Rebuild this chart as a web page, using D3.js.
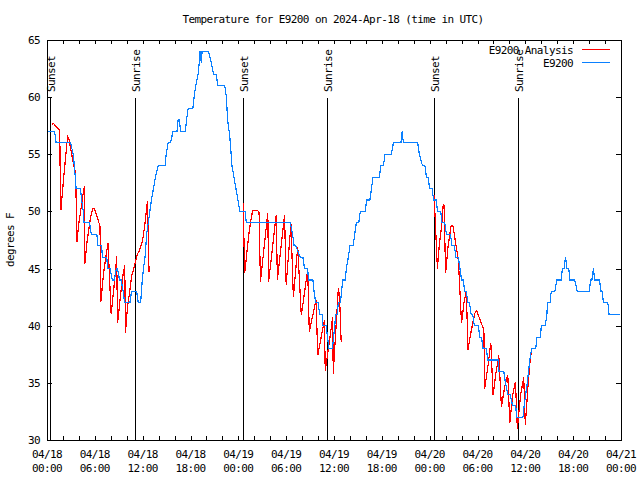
<!DOCTYPE html>
<html><head><meta charset="utf-8">
<script src="https://cdn.jsdelivr.net/npm/d3@7"></script>
<style>
body{margin:0;background:#fff}
text{font-family:"DejaVu Sans Mono",monospace;font-size:11px;letter-spacing:-0.6px;fill:#000}
</style></head>
<body><svg id="c" width="640" height="480"></svg>
<script>
const title = "Temperature for E9200 on 2024-Apr-18 (time in UTC)";
const yLabel = "degrees F";
const seriesNames = ["E9200 Analysis", "E9200"];
const seriesColors = ["#ff0000", "#0a80ff"];

const xTickHours = [0,6,12,18,24,30,36,42,48,54,60,66,72];
const xTickDates = ["04/18","04/18","04/18","04/18","04/19","04/19","04/19","04/19","04/20","04/20","04/20","04/20","04/21"];
const xTickTimes = ["00:00","06:00","12:00","18:00","00:00","06:00","12:00","18:00","00:00","06:00","12:00","18:00","00:00"];
const xMinorHours = [0,2,4,6,8,10,12,14,16,18,20,22,24,26,28,30,32,34,36,38,40,42,44,46,48,50,52,54,56,58,60,62,64,66,68,70,72];
const yTicks = [30,35,40,45,50,55,60,65];

const sunLabels = ["Sunset","Sunrise","Sunset","Sunrise","Sunset","Sunrise"];
const sunHours = [0.41,11.08,24.55,35.17,48.6,59.14];

// Observations (hours since 04/18 00:00 UTC, deg F)
const observed = [
[0.1,57],[0.95,57],[1.15,56],[2.95,56],[3.3,55],[3.55,53],[3.65,52],[4.2,52],[4.35,51],[4.55,50],[4.65,49],[5.35,49],[5.55,48],[6.25,48],[6.4,47],[6.85,47],[6.95,46],[7.5,46],[7.6,45],[7.9,45],[8.2,44],[8.45,44],[8.7,45],[8.85,45],[9.1,44],[9.3,44],[9.55,43],[9.75,42],[10.4,42],[10.6,43],[11.25,43],[11.45,42],[11.75,42],[11.95,44],[12.1,45],[12.3,46],[12.5,48],[12.7,49],[12.9,50],[13.1,51],[13.35,52],[13.6,53],[13.95,54],[14.8,54],[14.95,55],[15.2,56],[15.5,56],[15.8,57],[16.3,57],[16.45,58],[16.6,58],[16.75,57],[17.35,57],[17.5,58],[17.7,59],[18.3,59],[18.45,60],[18.65,61],[18.95,62],[19.1,63],[19.2,64],[19.35,63],[19.45,64],[20.25,64],[20.6,63],[20.9,62],[21.25,62],[21.4,61],[22.3,61],[22.5,60],[22.65,58],[22.85,57],[23.0,56],[23.2,54],[23.45,53],[23.7,52],[23.95,51],[24.2,50],[24.85,50],[25.0,49],
[30.5,49],[30.8,48],[31.0,47],[31.2,47],[31.75,46],[32.1,46],[32.3,45],[32.7,45],[32.8,44],[33.35,44],[33.5,43],[33.7,42],[34.0,42],[34.2,41],[34.5,41],[34.6,40],[35.0,40],[35.2,39],[35.35,38],[35.8,38],[35.95,39],[36.1,40],[36.2,41],[36.4,41],[36.55,42],[36.8,42],[36.95,43],[37.1,44],[37.4,44],[37.55,45],[37.8,46],[38.0,47],[38.4,47],[38.6,48],[38.8,49],[39.1,49],[39.3,50],[39.9,50],[40.1,51],[40.5,51],[40.7,52],[40.9,53],[41.7,53],[41.85,54],[42.2,54],[42.4,55],[43.2,55],[43.45,56],[44.4,56],[44.55,57],[44.7,56],[46.5,56],[46.7,55],[47.1,54],[47.4,54],[47.6,53],[47.8,53],[48.0,52],[48.3,52],[48.5,51],[48.8,51],[49.0,50],[49.4,50],[49.5,49],[49.9,49],[50.1,48],[50.6,48],[50.8,47],[51.1,47],[51.3,46],[51.6,46],[51.8,45],[52.0,44],[52.2,44],[52.4,43],[52.6,43],[52.8,42],[53.0,42],[53.2,41],[53.4,41],[53.6,40],[54.1,40],[54.3,39],[54.5,39],[54.7,38],[55.1,38],[55.3,37],[56.6,37],[56.7,36],[57.3,36],[57.5,35],[57.8,34],[58.1,34],[58.4,33],[58.8,33],[58.9,32],[59.7,32],[59.85,33],[60.05,34],[60.25,35],[60.4,36],[60.55,37],[60.8,38],[61.3,38],[61.45,39],[61.9,39],[62.0,40],[62.5,40],[62.7,41],[62.8,42],[63.1,42],[63.25,43],[63.7,43],[63.95,44],[64.5,44],[64.65,45],[64.85,45],[65.05,46],[65.2,45],[65.45,45],[65.6,44],[66.2,44],[66.5,43],[68.0,43],[68.2,44],[68.35,44],[68.55,45],[68.7,44],[69.3,44],[69.5,43],[69.65,43],[69.8,42],[70.35,42],[70.5,41],[71.9,41]
];

// Analysis, night 1
const analysis1 = [
[0.67,57.6],[0.8,57.7],[1.6,57.1],[1.65,53.6],[1.75,50.1],[1.85,51.0],[2.1,53],[2.3,54.5],[2.5,56],[2.6,56.5],[2.75,56.3],[3.0,55.4],[3.3,54.2],[3.6,53.3],[3.75,47.3],[4.0,49.0],[4.3,50.4],[4.6,51.9],[4.7,52.2],[4.75,45.4],[5.0,47.2],[5.4,49.2],[5.7,50.2],[5.9,50.3],[6.3,49.5],[6.65,48.7],[6.75,42.1],[7.1,44.6],[7.45,46.35],[7.65,47.2],[8.05,41.0],[8.4,43.4],[8.65,45.2],[8.74,46.1],[8.85,40.2],[9.2,42.5],[9.5,44.3],[9.75,45.3],[9.85,39.4],[10.1,41.7],[10.4,43.1],[10.6,44.3],[11.0,45.3],[11.3,46.2],[11.6,46.6],[12.0,47.5],[12.3,49.0],[12.6,50.9],[12.8,44.7]
];
// Analysis, night 2
const analysis2 = [
[24.6,50.7],[24.8,44.6],[25.1,46.6],[25.35,48.2],[25.5,48.9],[25.8,50.1],[26.4,50.1],[26.6,49.9],[26.77,43.85],[27.7,49.9],[27.8,43.85],[28.75,49.7],[28.9,44.0],[29.8,49.7],[30.0,43.6],[30.6,48.9],[30.9,42.5],[31.45,46.9],[31.9,40.9],[32.7,44.9],[32.9,39.5],[33.75,42.25],[33.96,37.4],[34.8,40.5],[34.9,36.0],[35.85,40.8],[35.9,35.8],[36.55,43.3],[36.7,42.5],[36.9,38.6]
];
// Analysis, night 3
const analysis3 = [
[48.56,51.4],[48.97,45.0],[49.2,47],[49.5,48.7],[49.65,50.4],[49.8,50.6],[50.0,44.6],[50.3,46.9],[50.7,48.8],[50.9,48.8],[51.2,47.5],[51.6,45.7],[52.0,40.2],[52.3,42],[52.6,43.0],[52.8,37.9],[53.2,39.5],[53.66,41.1],[53.9,41.3],[54.5,40.2],[54.8,39.6],[54.9,34.5],[55.3,36.4],[55.67,38.5],[55.96,33.9],[56.3,35.8],[56.67,37.4],[57.0,32.9],[57.4,34.6],[57.8,35.7],[58.05,31.5],[58.4,33.9],[58.76,35.1],[59.0,31.0],[59.4,33.9],[59.8,35.5],[60.0,31.3],[60.3,34.4],[60.56,36.7],[60.8,38.0]
];

const svg = d3.select("#c");
const L = 47, R = 621, T = 40, B = 440;
const x = d3.scaleLinear().domain([0,72]).range([L,R]);
const y = d3.scaleLinear().domain([30,65]).range([B,T]);

svg.append("rect").attr("width",640).attr("height",480).attr("fill","#fff");

// title
svg.append("text").attr("x",333).attr("y",23).attr("text-anchor","middle").text(title);

// y label
svg.append("text").attr("transform","translate(14,240) rotate(-90)").attr("text-anchor","middle").text(yLabel);

const g = svg.append("g").attr("shape-rendering","crispEdges");

// sunrise / sunset lines
sunHours.forEach((h,i)=>{
  const xp = Math.round(x(h))+0.5;
  g.append("line").attr("x1",xp).attr("x2",xp).attr("y1",98).attr("y2",B).attr("stroke","#000").attr("stroke-width",1);
  svg.append("text").attr("transform",`translate(${xp+4.5},92) rotate(-90)`).attr("text-anchor","start").text(sunLabels[i]);
});

// data lines
const line = d3.line().x(d=>x(d[0])).y(d=>y(d[1]));
[analysis1, analysis2, analysis3].forEach(a=>{
  g.append("path").datum(a).attr("d",line).attr("fill","none").attr("stroke",seriesColors[0]).attr("stroke-width",1.2);
});
g.append("path").datum(observed).attr("d",line).attr("fill","none").attr("stroke",seriesColors[1]).attr("stroke-width",1.2);

// frame
g.append("rect").attr("x",L+0.5).attr("y",T+0.5).attr("width",R-L).attr("height",B-T).attr("fill","none").attr("stroke","#000");

// x ticks
xMinorHours.forEach(h=>{
  const xp = Math.round(x(h))+0.5;
  g.append("line").attr("x1",xp).attr("x2",xp).attr("y1",B).attr("y2",B-4).attr("stroke","#000");
  g.append("line").attr("x1",xp).attr("x2",xp).attr("y1",T).attr("y2",T+4).attr("stroke","#000");
});
xTickHours.forEach((h,i)=>{
  const xp = x(h);
  svg.append("text").attr("x",xp).attr("y",457.5).attr("text-anchor","middle").text(xTickDates[i]);
  svg.append("text").attr("x",xp).attr("y",471.5).attr("text-anchor","middle").text(xTickTimes[i]);
});

// y ticks
yTicks.forEach(v=>{
  const yp = Math.round(y(v))+0.5;
  g.append("line").attr("x1",L).attr("x2",L+5).attr("y1",yp).attr("y2",yp).attr("stroke","#000");
  g.append("line").attr("x1",R).attr("x2",R-5).attr("y1",yp).attr("y2",yp).attr("stroke","#000");
  svg.append("text").attr("x",40).attr("y",y(v)+4).attr("text-anchor","end").text(v);
});

// legend
seriesNames.forEach((n,i)=>{
  const yy = 49.5 + i*13;
  svg.append("text").attr("x",573).attr("y",yy+4).attr("text-anchor","end").text(n);
  g.append("line").attr("x1",582).attr("x2",610).attr("y1",yy).attr("y2",yy).attr("stroke",seriesColors[i]).attr("stroke-width",1.2);
});
</script></body></html>
